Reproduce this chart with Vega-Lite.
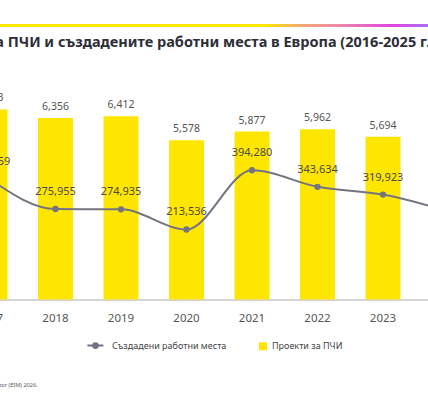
{
  "$schema": "https://vega.github.io/schema/vega-lite/v6.json",
  "padding": {"left": -108.75, "right": -53.25, "top": 24, "bottom": 0},
  "background": "white",
  "title": {
    "text": "Източник: EY European Investment Monitor (EIM) 2026.",
    "orient": "bottom",
    "anchor": "start",
    "frame": "group",
    "dx": -66,
    "offset": 31,
    "fontSize": 5.6,
    "fontWeight": "normal",
    "color": "#555555"
  },
  "config": {
    "view": {"stroke": null},
    "font": "Noto Sans"
  },
  "spacing": 7.5,
  "vconcat": [
    {
      "width": 524,
      "height": 3,
      "data": {"values": [{"strip": "top"}]},
      "mark": {
        "type": "rect",
        "fill": {
          "gradient": "linear",
          "x1": 0, "x2": 1, "y1": 0, "y2": 0,
          "stops": [
            {"offset": 0, "color": "#FFE600"},
            {"offset": 0.587, "color": "#FFE600"},
            {"offset": 0.655, "color": "#F5A870"},
            {"offset": 0.73, "color": "#EF85A8"},
            {"offset": 0.83, "color": "#E044E0"},
            {"offset": 0.9, "color": "#A870F0"},
            {"offset": 1, "color": "#9A70F0"}
          ]
        }
      },
      "encoding": {}
    },
    {
      "width": 524,
      "height": 200,
      "title": {
        "text": "Проекти за ПЧИ и създадените работни места в Европа (2016-2025 г.)",
        "anchor": "start",
        "frame": "group",
        "dx": -37,
        "offset": 43,
        "fontSize": 14.5,
        "fontWeight": "bold",
        "color": "#2E2E38"
      },
      "data": {
        "values": [
          {"year": "2017", "projects": 6653, "jobs": 366959},
          {"year": "2018", "projects": 6356, "jobs": 275955},
          {"year": "2019", "projects": 6412, "jobs": 274935},
          {"year": "2020", "projects": 5578, "jobs": 213536},
          {"year": "2021", "projects": 5877, "jobs": 394280},
          {"year": "2022", "projects": 5962, "jobs": 343634},
          {"year": "2023", "projects": 5694, "jobs": 319923},
          {"year": "2024", "projects": 5383, "jobs": 269000}
        ]
      },
      "encoding": {
        "x": {
          "field": "year",
          "type": "ordinal",
          "scale": {"paddingInner": 0.466, "paddingOuter": 0.233},
          "axis": {
            "title": null,
            "labelAngle": 0,
            "ticks": false,
            "domainColor": "#AAAAAA",
            "labelFontSize": 11.5,
            "labelColor": "#555555",
            "labelPadding": 13
          }
        }
      },
      "layer": [
        {
          "mark": {"type": "bar"},
          "encoding": {
            "y": {"field": "projects", "type": "quantitative", "scale": {"domain": [0, 7000]}, "axis": null},
            "color": {
              "datum": "Проекти за ПЧИ",
              "scale": {
                "domain": ["Създадени работни места", "Проекти за ПЧИ"],
                "range": ["#747480", "#FFE600"]
              },
              "legend": {
                "orient": "none",
                "legendX": 141.25,
                "legendY": 317,
                "padding": 0,
                "direction": "horizontal",
                "title": null,
                "labelFontSize": 9,
                "labelColor": "#444444",
                "symbolSize": 64,
                "labelOffset": 4.5,
                "columnPadding": 32,
                "encode": {
                  "symbols": {
                    "update": {
                      "shape": {"signal": "datum.value === 'Проекти за ПЧИ' ? 'square' : 'M-3.9,0L0.1,0M-1.275,0A0.6,0.6 0 1 1 -2.475,0A0.6,0.6 0 1 1 -1.275,0'"},
                      "fill": {"signal": "datum.value === 'Проекти за ПЧИ' ? '#FFE600' : '#747480'"},
                      "stroke": {"signal": "datum.value === 'Проекти за ПЧИ' ? 'transparent' : '#747480'"},
                      "strokeWidth": {"signal": "datum.value === 'Проекти за ПЧИ' ? 0 : 2"},
                      "opacity": {"value": 1}
                    }
                  }
                }
              }
            }
          }
        },
        {
          "mark": {"type": "text", "baseline": "middle", "dy": -11, "fontSize": 10.5, "color": "#555555"},
          "encoding": {
            "y": {"field": "projects", "type": "quantitative", "scale": {"domain": [0, 7000]}, "axis": null},
            "text": {"field": "projects", "type": "quantitative", "format": ","}
          }
        },
        {
          "mark": {"type": "line", "strokeWidth": 2, "interpolate": "monotone"},
          "encoding": {
            "y": {"field": "jobs", "type": "quantitative", "scale": {"domain": [0, 610000]}, "axis": null},
            "color": {"datum": "Създадени работни места"}
          }
        },
        {
          "mark": {"type": "point", "filled": true, "size": 40, "opacity": 1},
          "encoding": {
            "y": {"field": "jobs", "type": "quantitative", "scale": {"domain": [0, 610000]}, "axis": null},
            "color": {"datum": "Създадени работни места"}
          }
        },
        {
          "mark": {"type": "text", "baseline": "middle", "dy": -17, "fontSize": 11, "color": "#4A4A4A"},
          "encoding": {
            "y": {"field": "jobs", "type": "quantitative", "scale": {"domain": [0, 610000]}, "axis": null},
            "text": {"field": "jobs", "type": "quantitative", "format": ","}
          }
        }
      ],
      "resolve": {"scale": {"y": "independent"}}
    }
  ]
}
